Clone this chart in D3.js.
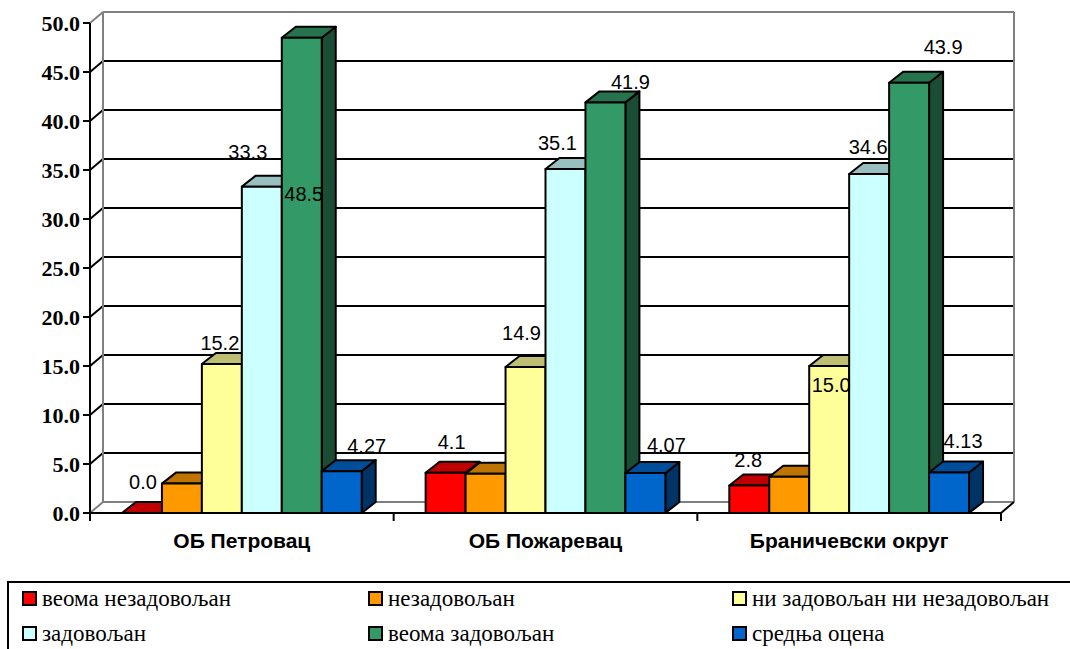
<!DOCTYPE html>
<html>
<head>
<meta charset="utf-8">
<script src="https://cdn.jsdelivr.net/npm/d3@7"></script>
<style>
  html, body { margin: 0; padding: 0; background: #fff; }
  svg { display: block; }
</style>
</head>
<body>
<svg id="chart" width="1070" height="649"></svg>
<script>
// Satisfaction survey results by area (percent), plus the average mark
const categories = ["ОБ Петровац", "ОБ Пожаревац", "Браничевски округ"];
const seriesNames = [
  "веома незадовољан",
  "незадовољан",
  "ни задовољан ни незадовољан",
  "задовољан",
  "веома задовољан",
  "средња оцена"
];
const seriesColors = ["#FF0000", "#FF9900", "#FFFF99", "#CCFFFF", "#339966", "#0066CC"];
// one array per series, ordered like categories
const veomaNezadovoljan = [0.0, 4.1, 2.8];
const nezadovoljan = [3.0, 4.0, 3.7];
const niZadovoljanNiNezadovoljan = [15.2, 14.9, 15.0];
const zadovoljan = [33.3, 35.1, 34.6];
const veomaZadovoljan = [48.5, 41.9, 43.9];
const srednjaOcena = [4.27, 4.07, 4.13];
const seriesValues = [veomaNezadovoljan, nezadovoljan, niZadovoljanNiNezadovoljan,
                      zadovoljan, veomaZadovoljan, srednjaOcena];
const labelFormats = [".1f", ".1f", ".1f", ".1f", ".1f", ".2f"];
const yTickValues = [0, 5, 10, 15, 20, 25, 30, 35, 40, 45, 50];

// label placement tweaks [dx, dy] per series and category; null = label hidden
const labelNudge = [
  [[-6, -7], [-1, -7], [-8, -2]],
  null,
  [[-9, 3], [-11, -10], [-5, 43]],
  [[-21, -11], [-15, -2], [-8, -3]],
  [[-5, 180], [18, 4], [27, -12]],
  [[18, -1], [14, -4], [7, -8]]
];

const SERIF = "Liberation Serif, serif";
const SANS = "Liberation Sans, sans-serif";

const svg = d3.select("#chart");

// front plane of the plot and the 3D depth offsets
const plotLeft = 90, plotRight = 1001, plotTop = 23, plotBottom = 513;
const wallDX = 13, wallDY = -11;
const barDX = 14, barDY = -11;

const y = d3.scaleLinear().domain([0, 50]).range([plotBottom, plotTop]);
const x0 = d3.scaleBand().domain(categories).range([plotLeft, plotRight]).paddingInner(0).paddingOuter(0);
const x1 = d3.scaleBand().domain(d3.range(seriesNames.length)).range([0, x0.bandwidth()])
  .paddingInner(0).paddingOuter(0.8);

const gray = "#808080";

// back wall gridlines
const grid = svg.append("g");
yTickValues.forEach(t => {
  const edge = (t === 0 || t === 50);
  grid.append("line")
    .attr("x1", plotLeft + wallDX).attr("x2", plotRight + wallDX)
    .attr("y1", y(t) + wallDY).attr("y2", y(t) + wallDY)
    .attr("stroke", edge ? gray : "#000").attr("stroke-width", 2);
  // side wall diagonal
  grid.append("line")
    .attr("x1", plotLeft).attr("x2", plotLeft + wallDX)
    .attr("y1", y(t)).attr("y2", y(t) + wallDY)
    .attr("stroke", edge ? gray : "#000").attr("stroke-width", 2);
});
// wall edges
grid.append("line")
  .attr("x1", plotLeft + wallDX).attr("x2", plotLeft + wallDX)
  .attr("y1", y(50) + wallDY).attr("y2", y(0) + wallDY)
  .attr("stroke", gray).attr("stroke-width", 2);
grid.append("line")
  .attr("x1", plotRight + wallDX).attr("x2", plotRight + wallDX)
  .attr("y1", y(50) + wallDY).attr("y2", y(0) + wallDY)
  .attr("stroke", gray).attr("stroke-width", 2);
grid.append("line")
  .attr("x1", plotRight).attr("x2", plotRight + wallDX)
  .attr("y1", y(0)).attr("y2", y(0) + wallDY)
  .attr("stroke", "#000").attr("stroke-width", 2);

// bars, painted left to right so each front face covers the previous side face
const bars = svg.append("g").attr("stroke", "#000").attr("stroke-width", 2).attr("stroke-linejoin", "round");
categories.forEach((cat, ci) => {
  seriesValues.forEach((vals, si) => {
    const v = vals[ci];
    const xl = x0(cat) + x1(si);
    const xr = xl + x1.bandwidth();
    const yt = y(v), yb = y(0);
    const base = d3.rgb(seriesColors[si]);
    const topCol = d3.rgb(base.r * 0.75, base.g * 0.75, base.b * 0.75);
    const sideCol = d3.rgb(base.r * 0.5, base.g * 0.5, base.b * 0.5);
    const g = bars.append("g");
    g.append("path")
      .attr("d", `M${xr},${yt}L${xr + barDX},${yt + barDY}L${xr + barDX},${yb + barDY}L${xr},${yb}Z`)
      .attr("fill", sideCol);
    g.append("path")
      .attr("d", `M${xl},${yt}L${xl + barDX},${yt + barDY}L${xr + barDX},${yt + barDY}L${xr},${yt}Z`)
      .attr("fill", topCol);
    if (yb - yt > 0.5) {
      g.append("rect")
        .attr("x", xl).attr("y", yt)
        .attr("width", xr - xl).attr("height", yb - yt)
        .attr("fill", base);
    }
  });
});

// axes
const axes = svg.append("g").attr("stroke", "#000").attr("stroke-width", 2);
axes.append("line").attr("x1", plotLeft).attr("x2", plotLeft).attr("y1", y(50)).attr("y2", y(0) + 8);
axes.append("line").attr("x1", plotLeft).attr("x2", plotRight).attr("y1", y(0)).attr("y2", y(0));
yTickValues.forEach(t => {
  axes.append("line").attr("x1", plotLeft - 7).attr("x2", plotLeft).attr("y1", y(t)).attr("y2", y(t));
});
[...categories.map(c => x0(c)), plotRight].forEach(px => {
  axes.append("line").attr("x1", px).attr("x2", px).attr("y1", y(0)).attr("y2", y(0) + 8);
});

svg.append("g").selectAll("text").data(yTickValues).join("text")
  .attr("x", plotLeft - 10).attr("y", d => y(d) + 8)
  .attr("text-anchor", "end")
  .style("font-family", SERIF)
  .style("font-weight", "bold").style("font-size", "22px")
  .text(d => d3.format(".1f")(d));

svg.append("g").selectAll("text").data(categories).join("text")
  .attr("x", d => x0(d) + x0.bandwidth() / 2).attr("y", 548)
  .attr("text-anchor", "middle")
  .style("font-family", SANS)
  .style("font-weight", "bold").style("font-size", "21px")
  .text(d => d);

// value labels
const labels = svg.append("g")
  .style("font-family", SANS)
  .style("font-size", "20px").attr("text-anchor", "middle").attr("fill", "#000");
seriesValues.forEach((vals, si) => {
  if (!labelNudge[si]) return;
  vals.forEach((v, ci) => {
    const cx = x0(categories[ci]) + x1(si) + x1.bandwidth() / 2 + barDX / 2;
    const [dx, dy] = labelNudge[si][ci];
    labels.append("text")
      .attr("x", cx + dx).attr("y", y(v) + barDY - 6 + dy)
      .text(d3.format(labelFormats[si])(v));
  });
});

// legend
const legend = svg.append("g");
legend.append("rect").attr("x", 8).attr("y", 582).attr("width", 1080).attr("height", 90)
  .attr("fill", "#fff").attr("stroke", "#000").attr("stroke-width", 2);
const legendCols = [23, 369, 733], legendRows = [592, 627];
seriesNames.forEach((name, i) => {
  const lx = legendCols[i % 3], ly = legendRows[Math.floor(i / 3)];
  legend.append("rect").attr("x", lx).attr("y", ly).attr("width", 13).attr("height", 13)
    .attr("fill", seriesColors[i]).attr("stroke", "#000").attr("stroke-width", 2);
  legend.append("text").attr("x", lx + 19).attr("y", ly + 14)
    .style("font-family", SERIF)
    .style("font-size", "23px").text(name);
});
</script>
</body>
</html>
